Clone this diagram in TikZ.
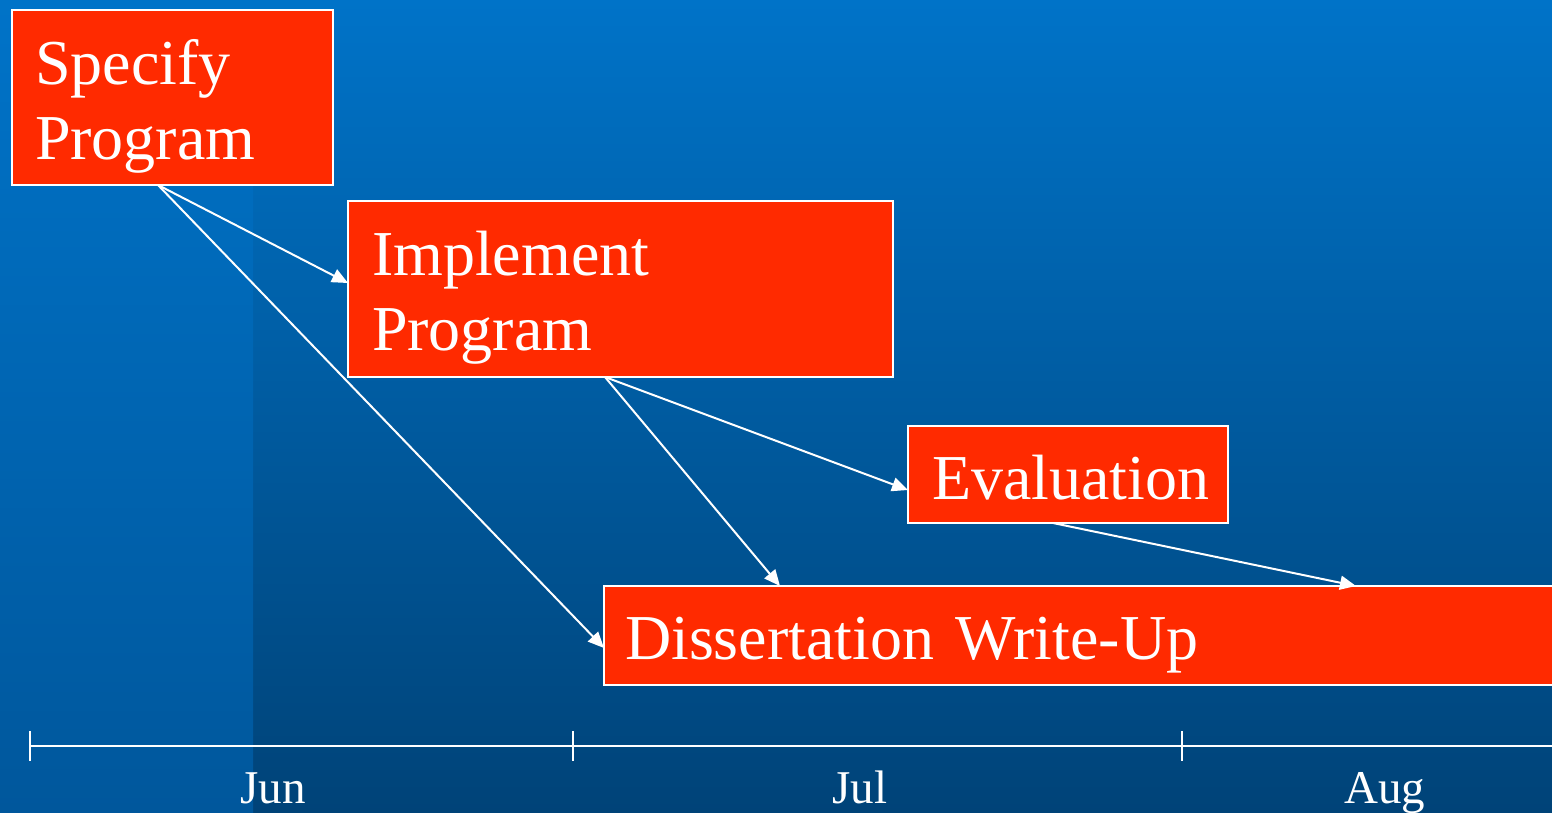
\documentclass[tikz,border=0pt]{standalone}
\usepackage{fontspec}
\setmainfont{Liberation Serif}
\usetikzlibrary{arrows.meta,calc}
\definecolor{bgtop}{HTML}{0073C8}
\definecolor{bgbottom}{HTML}{004378}
\definecolor{stripbottom}{HTML}{00579C}
\definecolor{boxred}{HTML}{FF2A00}
\tikzset{
  taskbox/.style={draw=white, line width=2pt, fill=boxred, text=white,
    anchor=north west, outer sep=0pt, inner ysep=0pt, align=left,
    font=\fontsize{64}{75}\selectfont},
  flow/.style={draw=white, line width=2pt, -{Triangle[length=16pt,width=14pt]}},
  axisline/.style={draw=white, line width=2pt},
  month/.style={text=white, anchor=base, font=\fontsize{47}{56}\selectfont, inner sep=0pt}
}
\begin{document}
\begin{tikzpicture}[x=1pt,y=-1pt]
\useasboundingbox (0,0) rectangle (1552,812);
\shade[top color=bgtop, bottom color=bgbottom] (0,0) rectangle (1552,812);
\shade[top color=bgtop, bottom color=stripbottom] (0,0) rectangle (253,812);

\node[taskbox, inner xsep=23pt, text width=275pt, text height=74pt, text depth=101pt] (spec) at (12,10) {Specify\\Program};
\node[taskbox, inner xsep=24pt, text width=497pt, text height=74pt, text depth=102pt] (impl) at (348,201) {Implement\\Program};
\node[taskbox, inner xsep=24pt, text width=272pt, text height=73pt, text depth=24pt] (eval) at (908,426) {Evaluation};
\node[taskbox, inner xsep=21pt, text width=918pt, text height=73pt, text depth=26pt] (diss) at (604,586) {Dissertation Write-Up};

\draw[flow] ($(spec.south west)+(146,0)$) -- ($(impl.north west)+(0,82)$);
\draw[flow] ($(spec.south west)+(146,0)$) -- ($(diss.north west)+(0,62)$);
\draw[flow] ($(impl.south west)+(257,0)$) -- ($(eval.north west)+(0,64)$);
\draw[flow] ($(impl.south west)+(257,0)$) -- ($(diss.north west)+(176,0)$);
\draw[flow] ($(eval.south west)+(145,0)$) -- ($(diss.north west)+(752,0)$);

\coordinate (axstart) at (30,746);
\coordinate (axend) at (1552,746);
\coordinate (tickjul) at (573,746);
\coordinate (tickaug) at (1182,746);
\draw[axisline] (axstart) -- (axend);
\draw[axisline] ($(axstart)+(0,-15)$) -- ($(axstart)+(0,15)$);
\draw[axisline] ($(tickjul)+(0,-15)$) -- ($(tickjul)+(0,15)$);
\draw[axisline] ($(tickaug)+(0,-15)$) -- ($(tickaug)+(0,15)$);

\node[month] (jun) at (273,803) {Jun};
\node[month] (jul) at (860,803) {Jul};
\node[month] (aug) at (1385,803) {Aug};
\end{tikzpicture}
\end{document}
